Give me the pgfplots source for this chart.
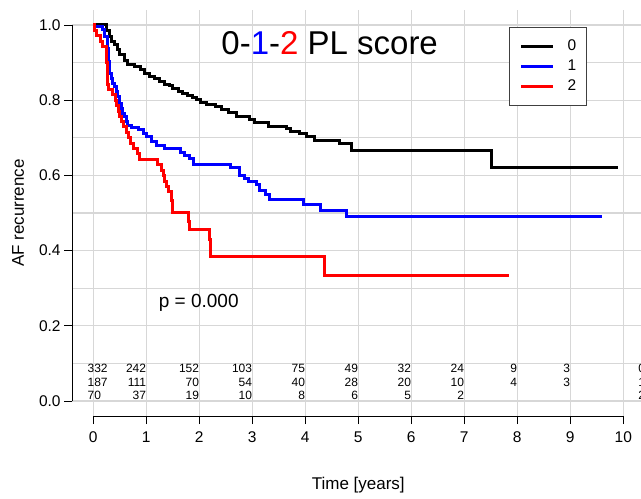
\documentclass[border=0pt]{standalone}
\usepackage{pgfplots}
\pgfplotsset{compat=1.18}
\usepackage{fontspec}
\setmainfont{Liberation Sans}
\definecolor{gridgray}{RGB}{215,215,215}
\begin{document}
\begin{tikzpicture}
\begin{axis}[
  scale only axis, width=572.4pt, height=406.1pt,
  xmin=-0.4, xmax=10.4, ymin=-0.04, ymax=1.04,
  axis line style={draw=none},
  xtick={0,1,2,3,4,5,6,7,8,9,10},
  ytick={0,0.2,0.4,0.6,0.8,1.0},
  minor xtick={0,1,2,3,4,5,6,7,8,9,10},
  minor ytick={0,0.1,0.2,0.3,0.4,0.5,0.6,0.7,0.8,0.9,1.0},
  grid=minor,
  minor grid style={draw=gridgray, line width=1.3pt},
  tick align=outside,
  major tick length=8pt, minor tick length=0pt,
  major tick style={black, line width=0.9pt},
  xtick pos=bottom, ytick pos=left,
  /pgf/number format/assume math mode=true,
  yticklabel style={/pgf/number format/.cd, fixed, fixed zerofill, precision=1},
  xticklabel style={yshift=-4pt},
  tick label style={font=\fontsize{15.5}{18}\selectfont},
  xlabel={Time [years]}, ylabel={AF recurrence},
  label style={font=\fontsize{17}{20}\selectfont},
  xlabel style={at={(axis description cs:0.5,-0.1698)}, anchor=center},
  ylabel style={at={(axis description cs:-0.0945,0.5)}, anchor=center},
  legend style={at={(axis cs:7.84,0.995)}, anchor=north west, draw=black!75, line width=0.8pt,
    inner xsep=10.5pt, inner ysep=9pt, font=\fontsize{15.5}{18}\selectfont, row sep=0pt,
    nodes={inner sep=0pt, minimum height=20pt},
    /tikz/every odd column/.append style={column sep=13pt}},
  legend cell align=left,
  legend image code/.code={\draw[#1, line width=3pt] (0pt,0pt) -- (32pt,0pt);},
]
\addplot[const plot, black, line width=3pt] coordinates {
(0,1.0) (0.25,0.985) (0.30,0.970) (0.35,0.957) (0.40,0.949) (0.45,0.935) (0.50,0.921)
(0.58,0.905) (0.65,0.895) (0.78,0.889) (0.90,0.882) (0.97,0.872) (1.06,0.863) (1.16,0.858)
(1.25,0.851) (1.35,0.843) (1.44,0.839) (1.50,0.832) (1.60,0.824) (1.69,0.817) (1.78,0.813)
(1.88,0.808) (1.94,0.801) (2.03,0.794) (2.13,0.789) (2.30,0.783) (2.42,0.775) (2.55,0.768)
(2.70,0.757) (2.95,0.748) (3.05,0.740) (3.30,0.731) (3.65,0.724) (3.72,0.717) (3.90,0.712)
(4.02,0.703) (4.18,0.692) (4.65,0.684) (4.87,0.667) (7.52,0.622) (9.90,0.622)};
\addlegendentry{0}
\addplot[const plot, blue, line width=3pt] coordinates {
(0,1.0) (0.03,0.995) (0.18,0.987) (0.22,0.969) (0.27,0.938) (0.29,0.902) (0.31,0.871)
(0.34,0.858) (0.37,0.845) (0.40,0.836) (0.43,0.823) (0.46,0.809) (0.50,0.792) (0.53,0.778)
(0.56,0.765) (0.59,0.756) (0.62,0.743) (0.65,0.734) (0.72,0.727) (0.85,0.721) (0.95,0.712)
(1.00,0.703) (1.10,0.690) (1.20,0.679) (1.35,0.672) (1.64,0.661) (1.73,0.654) (1.82,0.645)
(1.89,0.629) (2.58,0.621) (2.75,0.601) (2.85,0.592) (2.92,0.583) (3.08,0.577) (3.14,0.561)
(3.24,0.548) (3.33,0.535) (3.96,0.522) (4.28,0.508) (4.78,0.492) (9.59,0.492)};
\addlegendentry{1}
\addplot[const plot, red, line width=3pt] coordinates {
(0,1.0) (0.03,0.986) (0.07,0.971) (0.13,0.957) (0.18,0.943) (0.24,0.929) (0.25,0.900)
(0.26,0.871) (0.27,0.843) (0.28,0.829) (0.36,0.814) (0.41,0.800) (0.44,0.786) (0.47,0.771)
(0.50,0.757) (0.53,0.743) (0.57,0.729) (0.62,0.714) (0.66,0.700) (0.71,0.686) (0.76,0.671)
(0.83,0.657) (0.87,0.643) (1.22,0.628) (1.28,0.614) (1.32,0.600) (1.35,0.585) (1.38,0.571)
(1.42,0.557) (1.47,0.533) (1.50,0.502) (1.80,0.478) (1.82,0.455) (2.20,0.430) (2.22,0.384)
(4.37,0.335) (7.84,0.335)};
\addlegendentry{2}
% axis lines (R style, detached)
\draw[line width=0.9pt] (axis cs:0,-0.04) -- (axis cs:10,-0.04);
\draw[line width=0.9pt] (axis cs:-0.4,0) -- (axis cs:-0.4,1);
% title
\node[font=\fontsize{33}{36}\selectfont] at (axis cs:4.46,0.952) {0-{\color{blue}1}-{\color{red}2} PL score};
\node[font=\fontsize{19}{21}\selectfont, anchor=west] at (axis cs:1.17,0.26) {p = 0.000};
% numbers at risk
\begin{scope}[every node/.style={font=\fontsize{12}{14}\selectfont, inner sep=0pt}]
\node[anchor=west] at (axis cs:-0.11,0.0865) {332};
\node[anchor=west] at (axis cs:-0.11,0.0506) {187};
\node[anchor=west] at (axis cs:-0.11,0.0160) {70};
\node[anchor=east] at (axis cs:1,0.0865) {242};
\node[anchor=east] at (axis cs:1,0.0506) {111};
\node[anchor=east] at (axis cs:1,0.0160) {37};
\node[anchor=east] at (axis cs:2,0.0865) {152};
\node[anchor=east] at (axis cs:2,0.0506) {70};
\node[anchor=east] at (axis cs:2,0.0160) {19};
\node[anchor=east] at (axis cs:3,0.0865) {103};
\node[anchor=east] at (axis cs:3,0.0506) {54};
\node[anchor=east] at (axis cs:3,0.0160) {10};
\node[anchor=east] at (axis cs:4,0.0865) {75};
\node[anchor=east] at (axis cs:4,0.0506) {40};
\node[anchor=east] at (axis cs:4,0.0160) {8};
\node[anchor=east] at (axis cs:5,0.0865) {49};
\node[anchor=east] at (axis cs:5,0.0506) {28};
\node[anchor=east] at (axis cs:5,0.0160) {6};
\node[anchor=east] at (axis cs:6,0.0865) {32};
\node[anchor=east] at (axis cs:6,0.0506) {20};
\node[anchor=east] at (axis cs:6,0.0160) {5};
\node[anchor=east] at (axis cs:7,0.0865) {24};
\node[anchor=east] at (axis cs:7,0.0506) {10};
\node[anchor=east] at (axis cs:7,0.0160) {2};
\node[anchor=east] at (axis cs:8,0.0865) {9};
\node[anchor=east] at (axis cs:8,0.0506) {4};
\node[anchor=east] at (axis cs:9,0.0865) {3};
\node[anchor=east] at (axis cs:9,0.0506) {3};
\node[anchor=west] at (axis cs:10.28,0.0865) {0};
\node[anchor=west] at (axis cs:10.28,0.0506) {1};
\node[anchor=west] at (axis cs:10.28,0.0160) {2};
\end{scope}
\coordinate (bbsw) at (axis cs:-1.760,-0.258);
\coordinate (bbne) at (axis cs:10.334,1.0665);
\end{axis}
\pgfresetboundingbox
\useasboundingbox (bbsw) rectangle (bbne);
\end{tikzpicture}
\end{document}
